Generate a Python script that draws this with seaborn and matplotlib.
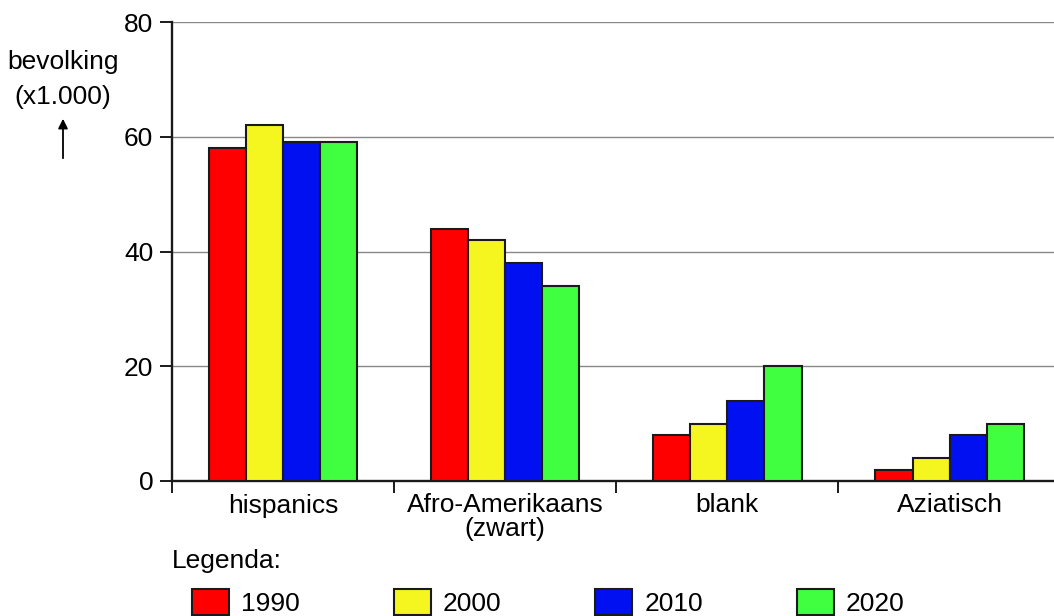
import pandas as pd
import numpy as np
import matplotlib.pyplot as plt
import seaborn as sns

# Data (population x 1000)
groups = ['hispanics', 'Afro-Amerikaans\n(zwart)', 'blank', 'Aziatisch']
years = ['1990', '2000', '2010', '2020']
v1990 = [58, 44, 8, 2]
v2000 = [62, 42, 10, 4]
v2010 = [59, 38, 14, 8]
v2020 = [59, 34, 20, 10]
colors = ['#ff0000', '#f5f520', '#0010f0', '#40ff40']

df = pd.DataFrame({
    'groep': groups * 4,
    'jaar': [y for y in years for _ in groups],
    'bevolking': v1990 + v2000 + v2010 + v2020,
})

sns.set_style('white')
plt.rcParams['font.family'] = ['Liberation Sans', 'DejaVu Sans']
plt.rcParams['font.size'] = 19
plt.rcParams['text.color'] = 'black'
plt.rcParams['xtick.color'] = 'black'
plt.rcParams['ytick.color'] = 'black'

fs = 19

fig = plt.figure(figsize=(10.54, 6.16), dpi=100)
ax = fig.add_axes([172 / 1054, 1 - 481 / 616, 1 - 172 / 1054, (481 - 22) / 616])

sns.barplot(data=df, x='groep', y='bevolking', hue='jaar', order=groups,
            hue_order=years, palette=colors, width=0.667, gap=0,
            edgecolor='#1a1a1a', linewidth=1.5, saturation=1, ax=ax, zorder=3)

ax.set_ylim(0, 80)
ax.set_xlim(-0.5, 3.47)
ax.set_yticks([0, 20, 40, 60, 80])
ax.yaxis.grid(True, color='#888888', linewidth=1)
ax.set_axisbelow(True)

ax.set_xticks(range(4))
ax.set_xticklabels(groups, fontsize=fs, linespacing=0.95)
ax.set_xticks([-0.5, 0.5, 1.5, 2.5], minor=True)
ax.tick_params(axis='x', which='major', length=0, pad=9)
ax.tick_params(axis='x', which='minor', length=8.5, width=1.4, color='#1a1a1a', direction='out', bottom=True)
ax.tick_params(axis='y', length=8.5, width=1.4, color='#1a1a1a', pad=5, left=True, labelsize=fs)
ax.set_xlabel('')
ax.set_ylabel('')

for side in ['top', 'right']:
    ax.spines[side].set_visible(False)
for side in ['left', 'bottom']:
    ax.spines[side].set_color('#1a1a1a')
    ax.spines[side].set_linewidth(1.7)

# y label with arrow
fig.text(63 / 1054, 1 - 62 / 616, 'bevolking', ha='center', va='center', fontsize=fs)
fig.text(63 / 1054, 1 - 97 / 616, '(x1.000)', ha='center', va='center', fontsize=fs)
fig.add_artist(plt.Annotation('', xy=(63 / 1054, 1 - 116 / 616), xytext=(63 / 1054, 1 - 161 / 616),
                              xycoords='figure fraction',
                              arrowprops=dict(arrowstyle='-|>', color='black', lw=1.3, mutation_scale=14)))

# legend
fig.text(172 / 1054, 1 - 561 / 616, 'Legenda:', ha='left', va='center', fontsize=fs)
handles, labels = ax.get_legend_handles_labels()
ax.legend(handles, labels, loc='upper left', bbox_to_anchor=(192 / 1054, 1 - 589 / 616),
          bbox_transform=fig.transFigure, ncol=4, frameon=False, handlelength=1.4,
          handleheight=1.15, handletextpad=0.45, columnspacing=3.57, fontsize=fs,
          borderaxespad=0, borderpad=0)

fig.savefig('out.png', dpi=100)
